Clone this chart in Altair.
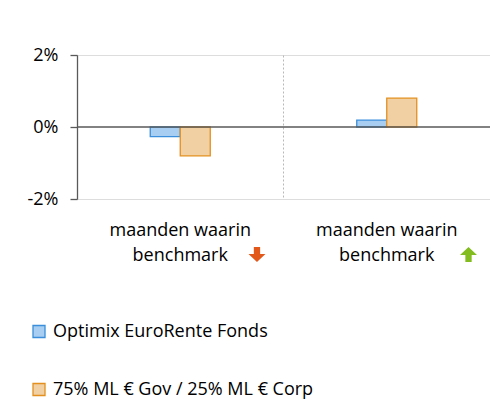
import altair as alt
import pandas as pd

categories = ["maanden waarin benchmark daalt", "maanden waarin benchmark stijgt"]
label_line1 = ["maanden waarin", "maanden waarin"]
label_line2 = ["benchmark", "benchmark"]
arrow_dirs = ["down", "up"]
arrow_colors = ["#E2571A", "#82BC1E"]
series = ["Optimix EuroRente Fonds", "75% ML € Gov / 25% ML € Corp"]
fund_values = [-0.27, 0.19]
bench_values = [-0.80, 0.80]

rows = []
for i, c in enumerate(categories):
    rows.append({"cat": c, "series": series[0], "value": fund_values[i]})
    rows.append({"cat": c, "series": series[1], "value": bench_values[i]})
df = pd.DataFrame(rows)


def arrow_path(direction, dx):
    # arrow glyph in symbol units (1 unit = sqrt(size)/2 px), shifted right by dx units
    s = 1 if direction == "down" else -1
    pts = [(-0.42, -1), (0.42, -1), (0.42, -0.07), (1.13, -0.07), (0, 1), (-1.13, -0.07), (-0.42, -0.07)]
    return "M" + "L".join(f"{x + dx:.2f},{y * s:.2f}" for x, y in pts) + "Z"


ARROW_SIZE = 225
unit = (ARROW_SIZE ** 0.5) / 2
arrow_shapes = [arrow_path("down", 76.75 / unit), arrow_path("up", 81.75 / unit)]

labels_df = pd.DataFrame({"cat": categories, "l1": label_line1, "l2": label_line2,
                          "shape": arrow_shapes, "acol": arrow_colors, "dir": arrow_dirs})

FONT = "Open Sans"
FS = 18
x_scale = alt.Scale(domain=categories, paddingInner=0, paddingOuter=0)

x_enc = alt.X("cat:N", scale=x_scale, sort=categories,
              axis=alt.Axis(title=None, labels=False, ticks=False, domain=False,
                            grid=True, gridDash=[2, 2], gridColor="#b8b8b8",
                            bandPosition=0))

leg = alt.Legend(title=None, orient="none", legendX=-47, legendY=267.5,
                 symbolType="square", symbolSize=144, labelLimit=0,
                 labelFont=FONT, labelFontSize=FS, labelColor="#000000",
                 rowPadding=40, labelOffset=5, symbolStrokeWidth=1.3)

bars = alt.Chart(df).mark_bar(strokeWidth=1.3).encode(
    x=x_enc,
    xOffset=alt.XOffset("series:N", sort=series,
                        scale=alt.Scale(domain=series, range=[73.25, 133.25])),
    y=alt.Y("value:Q", scale=alt.Scale(domain=[-2, 2], nice=False),
            axis=alt.Axis(title=None, values=[-2, 0, 2], grid=False,
                          labelExpr="(datum.value < 0 ? '-' : '') + abs(datum.value) + '%'",
                          domainColor="#595959", tickColor="#595959", tickSize=7,
                          domainWidth=1.3, tickWidth=1.3,
                          labelPadding=12, labelFont=FONT, labelFontSize=FS,
                          labelColor="#000000")),
    fill=alt.Fill("series:N", sort=series,
                  scale=alt.Scale(domain=series, range=["#A8CEF1", "#F1D0A4"]),
                  legend=leg),
    stroke=alt.Stroke("series:N", sort=series,
                      scale=alt.Scale(domain=series, range=["#3A8EDB", "#E4901F"]),
                      legend=leg),
)

zero = alt.Chart(pd.DataFrame({"v": [0]})).mark_rule(color="#595959", strokeWidth=1.5).encode(
    y="v:Q"
)

base_lbl = alt.Chart(labels_df)
line1 = base_lbl.mark_text(font=FONT, fontSize=FS, baseline="alphabetic", color="#000000").encode(
    x=alt.X("cat:N", scale=x_scale, sort=categories), y=alt.value(181), text="l1:N")
line2 = base_lbl.mark_text(font=FONT, fontSize=FS, baseline="alphabetic", color="#000000").encode(
    x=alt.X("cat:N", scale=x_scale, sort=categories), y=alt.value(206), text="l2:N")
arrow = base_lbl.mark_point(filled=True, opacity=1, size=ARROW_SIZE).encode(
    x=alt.X("cat:N", scale=x_scale, sort=categories),
    y=alt.value(199.5),
    shape=alt.Shape("shape:N", scale=None),
    color=alt.Color("acol:N", scale=None))

chart = alt.layer(bars, zero, line1, line2, arrow).properties(
    width=413, height=144,
    autosize=alt.AutoSizeParams(type="none"),
    padding={"left": 69, "top": 47, "right": 0, "bottom": 200},
).configure_view(stroke="#b8b8b8", strokeDash=[2, 2]).configure(background="white")

chart.save("out.html", embed_options={"renderer": "svg", "actions": False})
